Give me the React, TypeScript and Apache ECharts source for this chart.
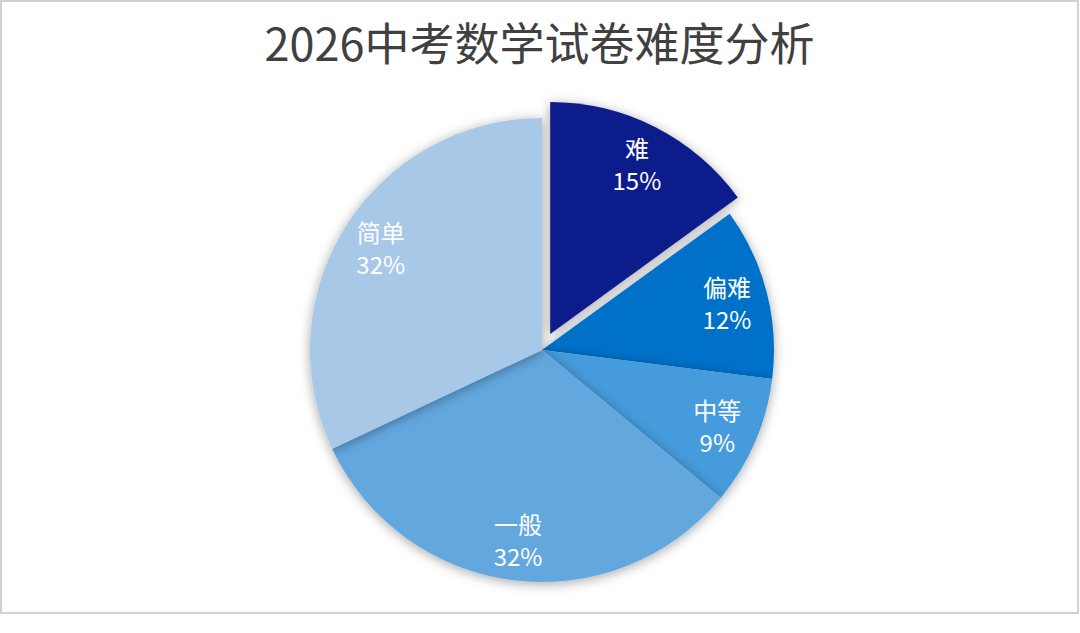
import React, { useEffect, useRef } from "react";
import * as echarts from "echarts";

const titleText = "2026中考数学试卷难度分析";
const categories = ["难", "偏难", "中等", "一般", "简单"];
const values = [15, 12, 9, 32, 32];
const colors = ["#0e1f8b", "#0071c9", "#459bdb", "#63a7df", "#a7c9e7"];

const W = 1079;
const H = 614;
const CX = 540;
const CY = 348;
const R = 232;

export default function App() {
  const ref = useRef<HTMLDivElement>(null);
  useEffect(() => {
    document.body.style.margin = "0";
    if (!ref.current) return;
    const chart = echarts.init(ref.current, undefined, { renderer: "svg" });
    const pieData = categories.map((name, i) => ({
      name,
      value: values[i],
      selected: i === 0,
      itemStyle: { color: colors[i] },
    }));
    const labelData = categories.map((name, i) => ({
      name,
      value: values[i],
      selected: i === 0,
    }));
    const common = {
      type: "pie",
      center: [CX, CY],
      startAngle: 90,
      clockwise: true,
      selectedMode: "single",
      selectedOffset: 18,
      emphasis: { disabled: true },
      labelLine: { show: false },
    };
    chart.setOption({
      animation: false,
      backgroundColor: "#ffffff",
      title: {
        text: titleText,
        left: "center",
        top: 12,
        textStyle: {
          fontFamily: "'Noto Sans CJK SC', 'Noto Sans', sans-serif",
          fontSize: 45,
          fontWeight: "normal",
          color: "#404040",
        },
      },
      series: [
        {
          ...common,
          radius: R,
          data: pieData,
          itemStyle: {
            borderWidth: 0,
            shadowBlur: 12,
            shadowColor: "rgba(0,0,0,0.35)",
            shadowOffsetY: 2,
          },
          label: { show: false },
        },
        {
          ...common,
          radius: [144, R],
          silent: true,
          data: labelData,
          itemStyle: { color: "rgba(0,0,0,0)", borderWidth: 0 },
          label: {
            show: true,
            position: "inside",
            formatter: (p: any) => `${p.name}\n${p.value}%`,
            color: "#ffffff",
            fontSize: 24,
            lineHeight: 32,
            fontFamily: "'Noto Sans CJK SC', 'Noto Sans', sans-serif",
          },
        },
      ],
    });
    return () => chart.dispose();
  }, []);
  return (
    <div
      style={{
        position: "absolute",
        left: 0,
        top: 0,
        width: W,
        height: H,
        boxSizing: "border-box",
        border: "2px solid #d2d2d2",
        background: "#fff",
      }}
    >
      <div ref={ref} style={{ width: W - 4, height: H - 4 }} />
    </div>
  );
}
